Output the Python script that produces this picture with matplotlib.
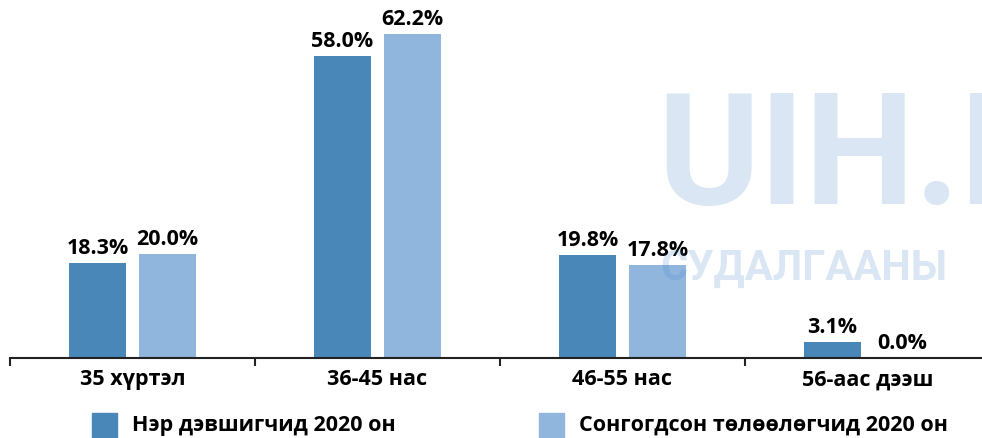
import matplotlib.pyplot as plt
import numpy as np

plt.rcParams['font.family'] = ['Open Sans', 'Noto Sans', 'DejaVu Sans']

categories = ['35 хүртэл', '36-45 нас', '46-55 нас', '56-аас дээш']
nominees = [18.3, 58.0, 19.8, 3.1]
elected = [20.0, 62.2, 17.8, 0.0]
series_names = ['Нэр дэвшигчид 2020 он', 'Сонгогдсон төлөөлөгчид 2020 он']

dark = '#4a87b9'
light = '#90b6dd'

fig = plt.figure(figsize=(9.82, 4.38), dpi=100)
ax = fig.add_axes([10 / 982, 80 / 438, 980 / 982, 358 / 438])

x = np.arange(len(categories))
bw = 0.229
off = 0.143
b1 = ax.bar(x - off, nominees, bw, color=dark)
b2 = ax.bar(x + off, elected, bw, color=light)

for bars, vals in ((b1, nominees), (b2, elected)):
    for b, v in zip(bars, vals):
        ax.text(b.get_x() + b.get_width() / 2, v + 0.8, f'{v:.1f}%',
                ha='center', va='bottom', fontsize=15.5, fontweight='bold')

ax.set_xlim(-0.5, len(categories) - 0.5)
ax.set_ylim(0, 68.8)
for s in ('top', 'right', 'left'):
    ax.spines[s].set_visible(False)
ax.spines['bottom'].set_linewidth(1.5)
ax.spines['bottom'].set_color('#222222')
ax.set_yticks([])
ax.set_xticks(np.arange(len(categories) + 1) - 0.5)
ax.set_xticklabels([])
ax.tick_params(axis='x', length=6, width=1.5, color='#222222', direction='out')
for i, c in enumerate(categories):
    ax.text(i, -2.2, c, ha='center', va='top', fontsize=15.5, fontweight='bold')

# watermark
wm = dict(fontweight='bold', color='#4682c8', alpha=0.2, ha='left', va='baseline',
          family=['Roboto', 'DejaVu Sans'])
fig.text(657 / 982, 1 - 204 / 438, 'UIH.MN', fontsize=112, **wm)
fig.text(660 / 982, 1 - 280 / 438, 'СУДАЛГААНЫ', fontsize=30, **wm)

# legend
for px, col, name in ((92, dark, series_names[0]), (539, light, series_names[1])):
    fig.patches.append(plt.Rectangle((px / 982, 0), 25 / 982, 25 / 438,
                                     transform=fig.transFigure, color=col))
    fig.text((px + 40) / 982, 1 - 425 / 438, name, fontsize=15.5, fontweight='bold',
             ha='left', va='center')

fig.savefig('out.png', dpi=100)
